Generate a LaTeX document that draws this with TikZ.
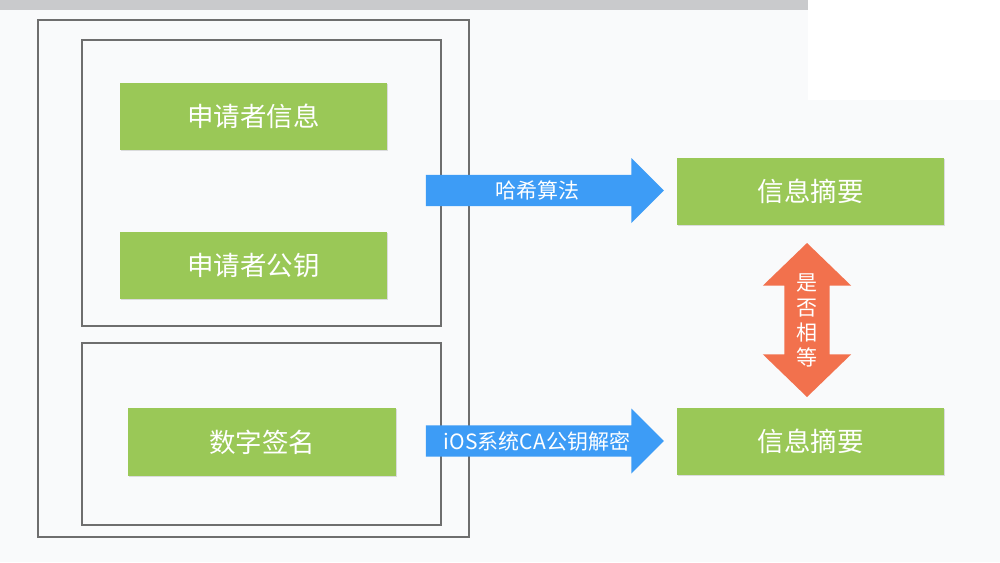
\documentclass[tikz,border=0pt]{standalone}
\usepackage{fontspec}
\setmainfont{Noto Sans CJK SC}
\usetikzlibrary{shapes.arrows,shadows,positioning}
\definecolor{boxgreen}{HTML}{9AC857}
\definecolor{arrowblue}{HTML}{3D9CF6}
\definecolor{arroworange}{HTML}{F2714D}
\definecolor{framegray}{HTML}{6E6E6E}
\definecolor{pagebg}{HTML}{F9FAFB}
\definecolor{bargray}{HTML}{C9CACC}

\begin{document}
\begin{tikzpicture}[x=1pt,y=-1pt, every node/.style={text=white,font=\fontsize{26.5}{30}\selectfont}, box/.style={fill=boxgreen,minimum width=267pt,minimum height=67pt,inner sep=0pt,drop shadow={opacity=0.25,shadow xshift=0.6pt,shadow yshift=-1pt}}, frame/.style={draw=framegray,line width=1.1pt,inner sep=0pt}, flow/.style={single arrow,fill=arrowblue,minimum height=238pt,minimum width=65pt,single arrow head extend=15.5pt,single arrow tip angle=90,inner ysep=4.5pt,inner xsep=2pt,font=\fontsize{21}{25}\selectfont}, check/.style={double arrow,fill=arroworange,shape border rotate=90,minimum height=154pt,minimum width=88pt,double arrow head extend=21.5pt,double arrow tip angle=92,inner sep=22.5pt}]
% page
\useasboundingbox (0,0) rectangle (1000,562);
\fill[pagebg] (0,0) rectangle (1000,562);
\fill[white] (808,0) rectangle (1000,100);
\fill[bargray] (0,0) rectangle (808,10);
% certificate frames
\node[frame,minimum width=431pt,minimum height=517pt] (cert) at (253.5,278.5) {};
\node[frame,minimum width=359pt,minimum height=286pt] (content) at (261.5,183) {};
\node[frame,minimum width=359pt,minimum height=182pt] (signpart) at (261.5,434) {};
% green boxes
\node[box] (info) at (253.5,116.5) {申请者信息};
\node[box] (pubkey) at (253.5,265.5) {申请者公钥};
\node[box,minimum width=268pt,minimum height=68pt] (sign) at (262,442) {数字签名};
\node[box] (digest1) at (810.5,191.5) {信息摘要};
\node[box] (digest2) at (810.5,441.5) {信息摘要};
% arrows
\node[flow] (hash) at (537,190.5) {哈希算法};
\node[flow] (decrypt) at (537,441) {iOS系统CA公钥解密};
\node[check] (equal) at (807,320) {};
\node[align=center,font=\fontsize{21}{25}\selectfont] (equaltext) at (equal) {是\\否\\相\\等};
\end{tikzpicture}
\end{document}
